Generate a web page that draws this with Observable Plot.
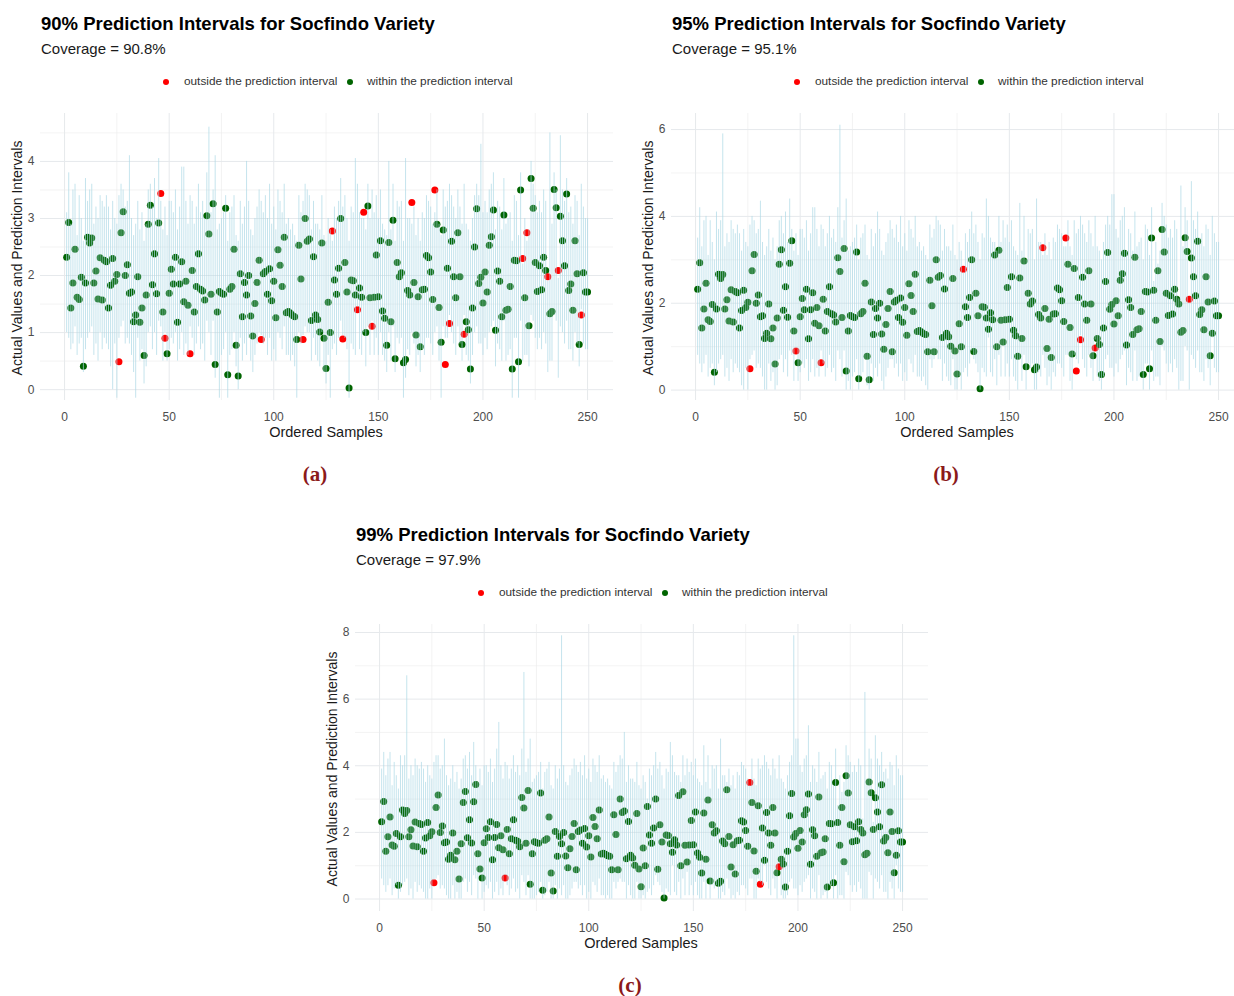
<!DOCTYPE html>
<html><head><meta charset="utf-8">
<script src="https://cdn.jsdelivr.net/npm/d3@7"></script>
<script src="https://cdn.jsdelivr.net/npm/@observablehq/plot@0.6"></script>
<style>
body{margin:0;background:#fff;font-family:"Liberation Sans",Arial,sans-serif;}
#root{position:relative;width:1234px;height:996px;overflow:hidden;background:#fff}
.t{position:absolute;white-space:nowrap;line-height:1}
.title{font-weight:bold;font-size:18.5px;color:#000}
.sub{font-size:15px;color:#1a1a1a}
.leg{font-size:11.8px;color:#333}
.dot{position:absolute;width:6px;height:6px;border-radius:50%}
.ytl{font-size:14px;color:#1a1a1a;transform:translate(-50%,-50%) rotate(-90deg)}
.xtl{font-size:14.5px;color:#1a1a1a;transform:translate(-50%,-50%)}
.tag{font-family:"Liberation Serif",serif;font-weight:bold;font-size:21px;color:#8b1a1a;transform:translate(-50%,-50%)}
svg{position:absolute}
</style></head>
<body><div id="root"></div>
<script>
// Actual values (ordered samples 1..250)
const actual = [
2.32,2.93,1.43,1.87,2.46,1.62,1.58,1.97,0.41,1.87,
2.67,2.57,2.66,1.87,2.08,1.59,2.31,1.57,2.27,2.24,
1.43,1.83,2.30,1.90,2.02,0.49,2.75,3.12,2.00,2.19,
1.69,1.71,1.19,1.31,1.98,1.18,1.43,0.60,1.66,2.90,
3.23,1.84,2.38,1.68,2.92,3.44,1.36,0.90,0.63,1.69,
2.11,1.85,2.32,1.18,1.85,2.24,1.54,1.90,1.48,0.63,
2.09,1.36,1.81,2.38,1.76,1.73,1.57,3.05,2.73,1.67,
3.26,0.44,1.36,1.72,1.69,1.67,3.18,0.26,1.76,1.81,
2.46,0.78,0.24,2.03,1.28,1.88,1.66,2.00,1.29,0.94,
1.51,1.88,2.27,0.88,2.03,2.07,1.67,2.12,1.56,1.90,
1.26,2.45,2.18,1.81,2.67,1.35,1.37,1.34,1.30,1.28,
0.88,2.53,1.94,0.88,3.00,2.60,2.64,1.21,2.33,1.31,
1.23,1.01,2.57,0.90,0.37,1.53,1.00,2.78,1.92,1.67,
2.13,3.00,0.89,2.23,1.71,0.03,1.92,1.91,1.66,1.40,
1.78,1.62,3.11,1.00,3.22,1.61,1.11,1.62,2.36,1.63,
2.61,1.38,1.25,0.78,2.58,1.19,2.97,0.54,2.23,1.98,
2.05,0.47,0.53,1.74,1.66,3.28,1.88,0.96,1.63,0.75,
1.75,1.76,2.35,2.31,2.06,1.58,3.50,2.90,1.44,0.83,
2.80,0.44,2.13,1.16,2.60,1.98,1.61,2.75,1.98,0.79,
0.97,1.19,1.05,0.36,1.43,2.50,3.17,1.86,1.97,1.52,
2.06,1.71,2.53,2.68,3.15,1.04,2.08,1.90,1.28,3.06,
1.39,1.41,1.81,0.36,2.27,2.26,0.49,3.50,2.30,1.61,
2.75,1.12,3.70,3.18,2.23,1.72,2.17,1.75,2.32,2.09,
1.98,1.33,1.37,3.51,3.19,2.09,3.04,2.61,2.17,3.43,
1.74,1.85,1.39,2.61,2.03,0.79,1.31,2.05,1.71,1.71];

const lower90 = [
1.0,0.9,0.7,0.8,1.1,0.6,0.8,0.9,0.3,0.7,
0.9,1.0,1.1,0.6,0.8,0.5,1.0,0.7,0.9,0.8,
0.7,0.4,0.0,0.8,-0.15,0.9,1.1,1.2,0.8,0.9,
0.8,0.6,0.3,-0.15,0.9,0.5,0.7,0.1,0.4,1.0,
1.1,0.7,1.0,0.6,1.2,1.1,0.5,1.0,0.5,0.7,
0.9,0.8,1.0,0.5,0.7,1.0,0.6,0.8,0.6,1.1,
0.9,0.6,0.8,1.1,0.7,0.8,0.5,1.2,1.0,0.6,
1.2,0.2,0.5,-0.15,0.6,0.7,1.0,-0.15,0.6,0.7,
1.0,0.4,0.0,0.9,0.5,0.8,0.6,0.9,0.5,0.3,
0.6,0.8,1.0,0.95,0.8,0.9,0.6,0.9,0.5,0.7,
0.5,1.0,0.9,0.7,1.1,0.6,0.6,0.5,0.6,0.4,
-0.15,1.0,0.8,0.95,1.1,1.0,1.0,0.5,0.9,0.6,
0.5,0.4,1.0,0.3,0.1,0.6,-0.15,0.7,0.8,0.6,
0.9,1.2,0.95,0.9,0.7,-0.15,0.8,0.7,0.6,1.45,
0.7,0.6,1.0,0.4,1.1,0.6,1.2,0.6,0.9,0.6,
1.0,0.6,0.5,0.3,1.0,0.5,1.1,0.3,0.9,0.8,
0.9,-0.15,0.2,0.7,0.6,1.0,0.8,0.4,0.6,0.3,
0.7,0.6,0.9,0.9,0.8,0.6,1.0,1.1,0.5,-0.15,
1.1,0.9,0.9,1.3,1.0,0.8,0.6,1.1,0.8,0.5,
1.3,0.6,0.5,0.1,0.6,1.0,1.1,0.8,0.8,0.6,
0.9,0.7,1.0,1.1,1.2,0.4,0.8,0.7,0.5,1.2,
0.5,0.6,0.7,-0.15,0.9,0.9,-0.15,1.2,0.5,0.6,
0.6,0.4,1.3,1.2,0.9,0.7,0.9,0.7,1.0,0.8,
0.3,0.5,0.5,1.3,1.2,0.2,1.1,1.0,0.8,1.2,
0.7,0.7,0.5,1.0,0.8,0.4,1.4,0.8,0.7,0.7];

const upper90 = [
3.1,3.8,2.9,3.5,3.6,2.7,3.4,3.0,2.6,3.7,
3.3,3.5,3.6,2.9,3.2,3.0,3.4,3.3,3.2,3.4,
3.2,2.8,3.3,3.0,2.9,3.4,3.6,3.5,3.2,3.3,
4.1,3.0,2.7,2.9,3.3,2.8,3.1,2.6,2.9,3.5,
3.6,3.2,3.7,3.0,4.05,3.3,2.8,3.2,2.7,3.3,
3.3,3.1,3.5,2.8,3.2,3.9,3.9,3.3,2.9,3.4,
3.3,2.9,3.2,3.6,3.1,3.3,3.0,3.8,4.6,3.1,
3.5,4.1,2.8,2.9,3.0,3.1,3.4,2.6,3.1,3.2,
3.4,2.7,2.6,3.3,2.9,3.2,4.0,3.3,2.8,2.7,
3.0,3.2,3.5,3.3,3.1,3.4,3.0,3.6,2.9,3.2,
2.8,3.5,3.3,3.1,3.6,2.9,3.0,2.8,2.9,2.7,
2.6,3.4,3.1,3.3,3.6,3.5,3.4,2.8,3.3,2.9,
2.9,2.8,3.4,2.7,2.6,3.0,2.8,2.6,3.2,3.0,
3.3,3.7,3.2,3.4,3.0,2.6,3.2,3.1,4.05,3.6,
3.1,3.0,3.0,2.8,3.6,3.0,3.5,3.1,3.4,3.0,
3.5,2.9,2.8,2.7,4.0,2.8,3.6,2.6,3.3,3.2,
3.3,2.6,4.05,3.0,3.0,2.9,3.2,2.7,3.0,2.6,
3.1,3.0,3.4,3.3,3.2,2.9,3.1,3.5,2.9,2.7,
3.5,3.2,3.3,3.6,3.4,3.2,3.0,3.5,3.2,2.9,
3.6,2.9,2.8,2.6,3.0,3.4,3.6,3.4,4.3,3.1,
3.3,3.1,3.5,3.6,3.8,2.8,3.3,3.2,2.8,3.7,
2.9,3.0,3.1,2.6,3.4,3.3,2.7,3.8,2.2,3.0,
2.6,2.8,4.0,3.6,3.4,3.1,3.3,3.1,3.5,3.3,
1.9,4.5,2.9,3.8,3.5,1.95,4.45,3.5,3.3,3.7,
3.1,3.2,2.9,3.4,3.3,2.7,3.6,3.2,3.0,3.0];

const lower95 = [
0.8,0.6,0.4,0.6,0.8,0.3,0.5,0.6,0.1,0.4,
0.6,0.7,0.8,0.3,0.5,0.2,0.7,0.4,0.6,0.5,
0.4,0.1,0.0,0.5,0.0,0.7,0.8,0.9,0.5,0.6,
0.5,0.3,0.0,0.0,0.6,0.2,0.4,0.0,0.1,0.7,
0.8,0.4,0.7,0.3,0.9,0.8,0.2,0.95,0.2,0.4,
0.6,0.5,0.7,0.2,0.4,0.7,0.3,0.5,0.3,0.9,
0.6,0.3,0.5,0.8,0.4,0.5,0.2,0.9,0.7,0.3,
0.9,0.0,0.2,0.0,0.3,0.4,0.7,0.0,0.3,0.4,
0.7,0.1,0.0,0.6,0.2,0.5,0.3,0.6,0.2,0.0,
0.3,0.5,0.7,0.7,0.5,0.6,0.3,0.6,0.2,0.4,
0.2,0.7,0.6,0.4,0.8,0.3,0.3,0.2,0.3,0.1,
0.0,0.7,0.5,0.7,0.8,0.7,0.7,0.2,0.6,0.3,
0.2,0.1,0.7,0.0,0.0,0.3,0.0,0.4,0.5,0.3,
0.6,0.9,0.7,0.6,0.4,0.0,0.5,0.4,0.3,1.2,
0.4,0.3,0.7,0.1,0.8,0.3,1.0,0.3,0.6,0.3,
0.7,0.3,0.2,0.0,0.7,0.2,0.8,0.0,0.6,0.5,
0.6,0.0,0.0,0.4,0.3,0.8,0.5,0.1,0.3,0.0,
0.4,0.3,0.6,0.6,0.5,0.3,0.8,0.8,0.2,0.0,
0.8,0.7,0.6,1.25,0.7,0.5,0.3,0.8,0.5,0.2,
1.15,0.3,0.2,0.0,0.3,0.7,0.8,0.5,0.5,0.3,
0.6,0.4,0.7,0.8,0.9,0.1,0.5,0.4,0.2,0.9,
0.2,0.3,0.4,0.0,0.6,0.6,0.0,0.9,0.2,0.3,
0.3,0.1,1.0,0.9,0.6,0.4,0.6,0.4,0.7,0.5,
0.0,0.2,0.2,1.0,0.9,0.0,0.8,0.7,0.5,0.9,
0.4,0.4,0.2,0.7,0.5,0.1,1.2,0.5,0.4,0.4];

const upper95 = [
3.5,4.2,3.3,3.9,4.0,3.1,3.9,3.4,3.0,4.1,
3.7,3.9,5.9,3.3,3.6,3.4,3.9,3.7,3.6,3.8,
3.6,3.2,3.7,3.4,3.3,3.8,4.0,3.9,3.6,3.7,
4.35,3.4,3.1,3.3,3.7,3.2,3.5,3.0,3.3,3.9,
4.0,3.6,4.1,3.4,4.4,3.7,3.2,3.6,3.1,3.7,
3.7,3.5,3.9,3.2,3.6,4.2,4.2,3.7,3.3,3.8,
3.7,3.3,3.6,4.0,3.5,3.7,3.4,4.2,6.1,3.5,
3.9,4.4,3.2,3.3,3.4,3.5,3.8,3.0,3.5,3.6,
3.8,3.1,3.0,3.7,3.3,3.6,4.1,3.7,3.2,3.1,
3.4,3.6,3.9,3.7,3.5,3.8,3.4,4.0,3.3,3.6,
3.2,3.9,3.7,3.5,4.0,3.3,3.4,3.2,3.3,3.1,
3.0,3.8,3.5,3.7,4.0,3.9,3.8,3.2,3.7,3.3,
3.3,3.2,3.8,3.1,3.0,3.4,3.2,2.7,3.6,3.4,
3.7,4.1,3.6,3.8,3.4,3.0,3.6,3.5,4.4,4.0,
3.5,3.4,3.4,3.2,4.0,3.4,3.9,3.5,3.8,3.4,
3.9,3.3,3.2,3.1,4.3,3.2,4.0,3.0,3.7,3.6,
3.7,3.0,4.4,3.4,3.4,3.1,3.6,3.1,3.4,3.0,
3.5,3.4,3.8,3.7,3.6,3.3,3.3,3.9,3.3,3.1,
3.9,3.6,3.7,4.0,3.8,3.6,3.4,3.9,3.6,3.3,
4.0,3.3,3.2,3.0,3.4,3.8,4.0,3.8,4.5,4.5,
3.7,3.5,3.9,4.0,4.2,3.2,3.7,3.6,3.2,4.1,
3.3,3.4,3.5,3.0,3.8,3.7,3.1,4.2,2.5,3.4,
2.9,3.2,4.3,4.0,3.8,3.5,3.7,3.5,3.9,3.7,
2.1,4.7,3.3,4.2,3.9,2.0,4.8,3.9,3.7,4.1,
3.5,3.6,3.3,3.8,3.7,3.1,4.0,3.6,3.4,3.4];

const lower99 = [
0.6,0.4,0.2,0.4,0.6,0.1,0.3,0.4,0.0,0.2,
0.4,0.5,0.6,0.1,0.3,0.0,0.5,0.2,0.4,0.3,
0.2,0.0,0.0,0.3,0.0,0.55,0.6,0.7,0.3,0.4,
0.3,0.1,0.0,0.0,0.4,0.0,0.2,0.0,0.0,0.5,
0.6,0.2,0.5,0.1,0.7,0.6,0.0,0.7,0.0,0.2,
0.4,0.3,0.5,0.0,0.2,0.5,0.1,0.3,0.1,0.7,
0.4,0.1,0.3,0.6,0.2,0.3,0.0,0.7,0.5,0.1,
0.7,0.0,0.0,0.0,0.1,0.2,0.5,0.0,0.1,0.2,
0.5,0.0,0.0,0.4,0.0,0.3,0.1,0.4,0.0,0.0,
0.1,0.3,0.5,0.5,0.3,0.4,0.1,0.4,0.0,0.2,
0.0,0.5,0.4,0.2,0.6,0.1,0.1,0.0,0.1,0.0,
0.0,0.5,0.3,0.5,0.6,0.5,0.5,0.0,0.4,0.1,
0.0,0.0,0.5,0.0,0.0,0.1,0.0,0.2,0.3,0.1,
0.4,0.7,0.5,0.4,0.2,0.0,0.3,0.2,0.1,1.0,
0.2,0.1,0.5,0.0,0.6,0.1,0.8,0.1,0.4,0.1,
0.5,0.1,0.0,0.0,0.5,0.0,0.6,0.0,0.4,0.3,
0.4,0.0,0.0,0.2,0.1,0.6,0.3,0.0,0.1,0.0,
0.2,0.1,0.4,0.4,0.3,0.1,0.6,0.6,0.0,0.0,
0.6,0.5,0.4,1.0,0.5,0.3,0.1,0.6,0.3,0.0,
1.05,0.1,0.0,0.0,0.1,0.5,0.6,0.3,0.3,0.1,
0.4,0.2,0.5,0.6,0.7,0.0,0.3,0.2,0.0,0.7,
0.0,0.1,0.2,0.0,0.4,0.4,0.0,0.7,0.0,0.1,
0.1,0.0,0.8,0.7,0.4,0.2,0.4,0.2,0.5,0.3,
0.0,0.0,0.0,0.8,0.7,0.0,0.6,0.5,0.3,0.7,
0.2,0.2,0.0,0.5,0.3,0.0,1.0,0.3,0.2,0.2];

const upper99 = [
3.9,4.4,3.7,4.2,4.4,3.4,4.1,3.7,3.3,4.3,
4.0,4.3,6.7,3.6,4.0,3.7,4.2,4.0,3.9,4.1,
3.9,3.5,4.0,3.7,3.6,4.1,4.3,4.3,3.9,4.0,
4.8,3.7,3.4,3.6,4.0,3.5,3.8,3.3,3.6,4.2,
4.3,3.9,4.4,3.7,4.7,4.0,3.5,3.9,3.4,4.0,
4.0,3.8,4.2,3.5,3.9,4.5,5.3,4.0,3.6,4.1,
4.0,3.6,3.9,4.3,3.8,4.0,3.7,4.5,6.8,3.8,
4.2,4.8,3.5,3.6,3.7,3.8,4.1,3.3,3.8,3.9,
4.1,3.4,3.3,4.0,3.6,3.9,7.9,4.0,3.5,3.4,
3.7,3.9,4.2,4.0,3.8,4.1,3.7,4.3,3.6,3.9,
3.5,4.2,4.0,3.8,4.3,3.6,3.7,3.5,3.6,3.4,
3.3,4.1,3.8,4.0,4.3,4.2,5.0,3.5,4.0,3.6,
3.6,3.5,4.1,3.4,3.3,3.7,3.5,3.0,3.9,3.7,
4.0,4.4,3.9,4.1,3.7,3.3,3.9,3.8,4.7,4.3,
3.8,3.7,3.7,3.5,4.3,3.7,4.2,3.8,4.1,3.7,
4.2,3.6,3.5,3.4,4.6,3.5,4.3,3.3,4.0,3.9,
4.0,3.3,4.8,3.7,3.7,3.5,3.9,3.4,3.7,3.3,
3.8,3.7,4.1,4.0,3.9,3.6,3.4,4.2,3.6,3.4,
4.2,3.9,4.0,4.3,4.1,3.9,3.7,4.2,3.9,3.6,
4.3,3.6,3.5,3.3,3.7,4.1,4.3,7.9,4.8,4.8,
4.0,3.8,4.2,4.3,5.2,3.5,4.0,3.9,3.5,4.4,
3.6,3.7,3.8,3.3,4.1,4.0,3.4,4.5,2.8,3.7,
3.2,3.5,4.6,4.3,4.1,3.8,4.0,3.8,4.2,4.0,
2.4,6.2,3.6,4.5,4.2,2.3,4.9,4.2,4.0,4.4,
3.8,3.9,3.6,4.1,4.0,3.4,4.3,3.9,3.7,3.7];

const xTicks = [0, 50, 100, 150, 200, 250];
const xMinor = [25, 75, 125, 175, 225];
const titles = ["90% Prediction Intervals for Socfindo Variety",
                "95% Prediction Intervals for Socfindo Variety",
                "99% Prediction Intervals for Socfindo Variety"];
const coverages = ["Coverage = 90.8%", "Coverage = 95.1%", "Coverage = 97.9%"];
const tags = ["(a)", "(b)", "(c)"];
const legendLabels = ["outside the prediction interval", "within the prediction interval"];
const yTickSets = [[0,1,2,3,4], [0,2,4,6], [0,2,4,6,8]];
const yMinorSets = [[0.5,1.5,2.5,3.5,4.5], [1,3,5], [1,3,5,7]];

const panels = [
  {ox:0,   oy:0,   lo:lower90, hi:upper90, yDomain:[-0.19,4.84]},
  {ox:631, oy:0,   lo:lower95, hi:upper95, yDomain:[-0.24,6.37]},
  {ox:315, oy:511, lo:lower99, hi:upper99, yDomain:[-0.375,8.24]}
];

const root = document.getElementById("root");
function addText(cls, txt, x, y, extra){
  const d = document.createElement("div");
  d.className = "t " + cls;
  d.textContent = txt;
  d.style.left = x + "px"; d.style.top = y + "px";
  if (extra) Object.assign(d.style, extra);
  root.appendChild(d);
  return d;
}
function addDot(color, cx, cy){
  const d = document.createElement("div");
  d.className = "dot";
  d.style.background = color;
  d.style.left = (cx - 3) + "px"; d.style.top = (cy - 3) + "px";
  root.appendChild(d);
}

const RED = "#ff0000", GREEN = "#006400";
const fmt = d => String(d);

panels.forEach((p, k) => {
  const ox = p.ox, oy = p.oy;
  addText("title", titles[k], ox + 41, oy + 15);
  addText("sub", coverages[k], ox + 41, oy + 41);
  addDot(RED, ox + 166, oy + 82);
  addText("leg", legendLabels[0], ox + 184, oy + 76);
  addDot(GREEN, ox + 350, oy + 82);
  addText("leg", legendLabels[1], ox + 367, oy + 76);

  const rows = actual.map((v, i) => {
    const lo = p.lo[i], hi = p.hi[i];
    return {s: i + 1, v, lo, hi, out: v < lo || v > hi};
  });

  const svg = Plot.plot({
    width: 620, height: 337,
    marginLeft: 40, marginRight: 7, marginTop: 10, marginBottom: 40,
    style: {fontFamily: "'Liberation Sans', Arial, sans-serif", fontSize: "12px", color: "#4d4d4d", background: "transparent", overflow: "visible"},
    x: {domain: [-11.5, 262.4], ticks: xTicks, tickFormat: fmt, tickSize: 0, tickPadding: 12, label: null},
    y: {domain: p.yDomain, ticks: yTickSets[k], tickFormat: fmt, tickSize: 0, tickPadding: 6, label: null},
    marks: [
      Plot.ruleX(xMinor, {stroke: "#ebebeb", strokeWidth: 0.6}),
      Plot.ruleY(yMinorSets[k], {stroke: "#ebebeb", strokeWidth: 0.6}),
      Plot.ruleX(xTicks, {stroke: "#e6e9ec", strokeWidth: 1}),
      Plot.ruleY(yTickSets[k], {stroke: "#e6e9ec", strokeWidth: 1}),
      Plot.dot(rows, {x: "s", y: "v", r: 3.5, fill: d => d.out ? RED : GREEN, stroke: null}),
      Plot.ruleX(rows, {x: "s", y1: "lo", y2: "hi", stroke: "#add8e6", strokeWidth: 1, strokeOpacity: 0.7, clip: true})
    ]
  });
  svg.style.left = ox + "px";
  svg.style.top = (oy + 103) + "px";
  root.appendChild(svg);

  addText("ytl", "Actual Values and Prediction Intervals", ox + 17, oy + 258);
  addText("xtl", "Ordered Samples", ox + 326, oy + 432);
  addText("tag", tags[k], ox + 315, oy + 474);
});
</script>
</body></html>
